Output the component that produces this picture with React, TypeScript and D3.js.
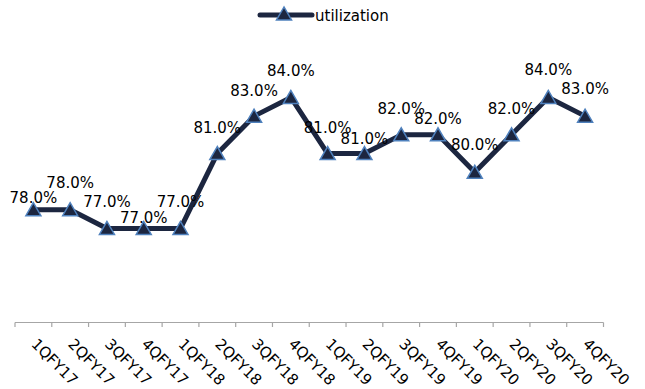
import React from "react";
import * as d3 from "d3";

const categories = ["1QFY17","2QFY17","3QFY17","4QFY17","1QFY18","2QFY18","3QFY18","4QFY18","1QFY19","2QFY19","3QFY19","4QFY19","1QFY20","2QFY20","3QFY20","4QFY20"];
const utilization = [78,78,77,77,77,81,83,84,81,81,82,82,80,82,84,83];
// label distance above each point (reference avoids overlaps)
const labelDy = [7,22,21,5,21,21,20,21,21,10,21,11,22,21,22,22];

const W = 645, H = 389;
const LINE = "#1c2640";
const MARK = "#4f81bd";
const FONT = "'DejaVu Sans', Verdana, sans-serif";

function tri(x: number, y: number) {
  return `M${x},${y - 8}L${x - 7.5},${y + 5}L${x + 7.5},${y + 5}Z`;
}

export default function App() {
  const x = d3.scaleBand<string>().domain(categories).range([15, 603.5]);
  const y = d3.scaleLinear().domain([72, 86]).range([322, 60]);
  const cx = (c: string) => (x(c) as number) + x.bandwidth() / 2;
  const line = d3.line<number>().x((_, i) => cx(categories[i])).y(d => y(d));
  const ticks = d3.range(categories.length + 1).map(i => 15 + i * x.bandwidth());
  const axisY = 322.5;
  return (
    <svg width={W} height={H} style={{ position: "absolute", left: 0, top: 0, background: "#fff" }} fontFamily={FONT}>
      {/* legend */}
      <g>
        <line x1={260} x2={312} y1={15} y2={15} stroke={LINE} strokeWidth={5} strokeLinecap="round" />
        <path d={tri(284, 15)} fill={LINE} stroke={MARK} strokeWidth={1.5} />
        <text x={315} y={20.5} fontSize={15} fill="#000">utilization</text>
      </g>
      {/* axis */}
      <line x1={15} x2={603.5} y1={axisY} y2={axisY} stroke="#a6a6a6" strokeWidth={1.2} />
      {ticks.map((t, i) => (
        <line key={i} x1={t} x2={t} y1={axisY} y2={axisY + 4.5} stroke="#a6a6a6" strokeWidth={1.2} />
      ))}
      {categories.map(c => (
        <text key={c} transform={`translate(${cx(c) - 3},${345}) rotate(45)`} fontSize={15} fill="#000">{c}</text>
      ))}
      {/* series */}
      <path d={line(utilization) as string} fill="none" stroke={LINE} strokeWidth={5} strokeLinejoin="round" />
      {utilization.map((v, i) => (
        <path key={i} d={tri(cx(categories[i]), y(v) + 1)} fill={LINE} stroke={MARK} strokeWidth={1.5} />
      ))}
      {utilization.map((v, i) => (
        <text key={"l" + i} x={cx(categories[i])} y={y(v) - labelDy[i]} fontSize={15} textAnchor="middle" fill="#000">
          {v.toFixed(1) + "%"}
        </text>
      ))}
    </svg>
  );
}
